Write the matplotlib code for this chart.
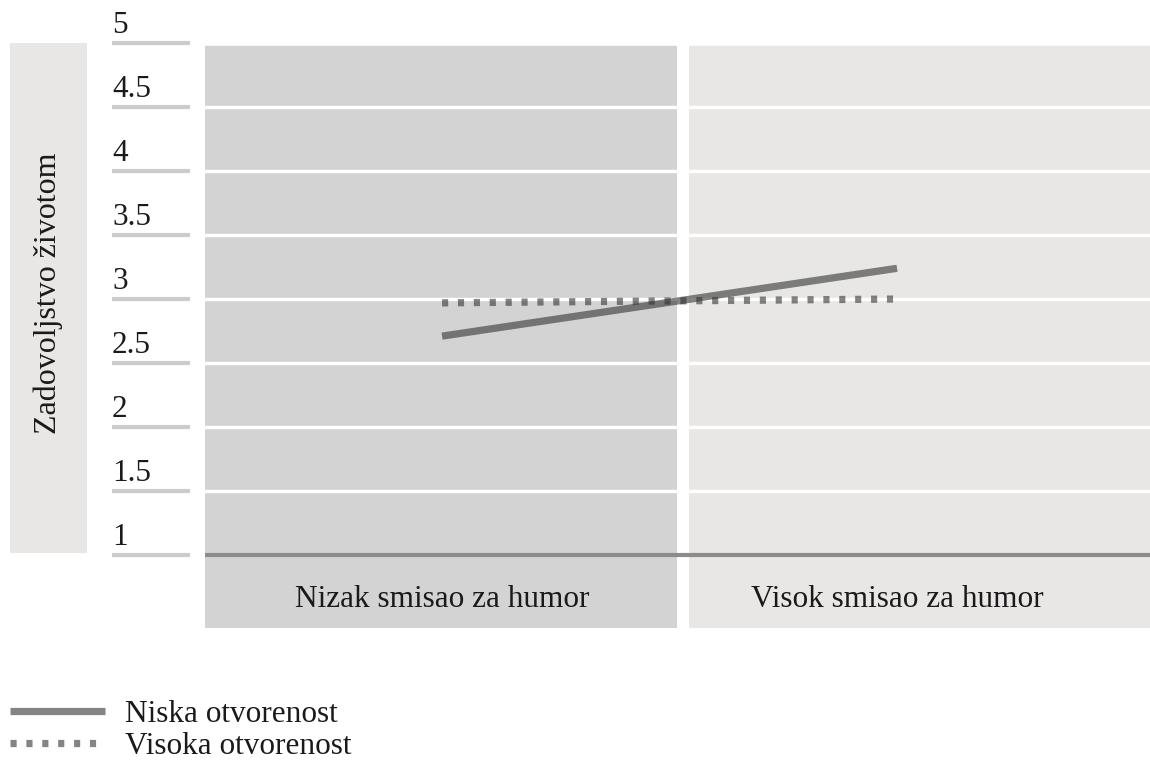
import matplotlib
matplotlib.use("Agg")
import matplotlib.pyplot as plt
import matplotlib.transforms as mtransforms
from matplotlib.patches import Rectangle

plt.rcParams['font.family'] = ['Liberation Serif', 'DejaVu Serif']

# data
categories = ['Nizak smisao za humor', 'Visok smisao za humor']
niska = [2.71, 3.24]
visoka = [2.97, 3.00]
series_labels = ['Niska otvorenost', 'Visoka otvorenost']
y_ticks = [1, 1.5, 2, 2.5, 3, 3.5, 4, 4.5, 5]
y_tick_labels = ['1', '1.5', '2', '2.5', '3', '3.5', '4', '4.5', '5']
y_title = 'Zadovoljstvo životom'

FS = 22.5
W, H = 1150, 771
fig = plt.figure(figsize=(W / 100, H / 100), dpi=100)

# main axes in pixel layout
x0, x1 = 205, 1150
ytop, ybot = 43, 628
ax = fig.add_axes([x0 / W, 1 - ybot / H, (x1 - x0) / W, (ybot - ytop) / H])
ax.set_xlim(-0.521, 1.556)
ax.set_ylim(0.43, 5)
ax.axis('off')

dark_bg = '#d4d3d4'
light_bg = '#e8e7e6'
split, gap = 0.53, 0.0135
ax.axvspan(-0.6, split - gap, color=dark_bg, lw=0, zorder=0)
ax.axvspan(split + gap, 1.7, color=light_bg, lw=0, zorder=0)

# white grid lines
for v in y_ticks[1:]:
    ax.axhline(v, color='white', lw=2.4, zorder=1)
ax.axhline(5, color='white', lw=4, zorder=1)
# baseline
ax.axhline(1, color='#8c8c8c', lw=3, zorder=2)

# category labels
for i, c in enumerate(categories):
    ax.text(i, (0.43 + 1) / 2 - 0.06, c, ha='center', va='center',
            fontsize=FS, color='#1a1a1a', zorder=3)

# series
xs = list(range(len(categories)))
l1, = ax.plot(xs, niska, color='#333333', alpha=0.6, lw=5.2,
              solid_capstyle='butt', zorder=4, label=series_labels[0])
l2, = ax.plot(xs, visoka, color='#333333', alpha=0.6, lw=5.2,
              dashes=(0.85, 1.35), dash_capstyle='butt', zorder=4,
              label=series_labels[1])

# tick labels with grey bars on the left
blend = mtransforms.blended_transform_factory(fig.transFigure, ax.transData)
for v, lab in zip(y_ticks, y_tick_labels):
    ax.plot([112 / W, 190 / W], [v, v], transform=blend, color='#cccccc',
            lw=3, solid_capstyle='butt', clip_on=False)
    ax.text(112 / W, v + 10 / 128, lab, transform=blend, ha='left',
            va='baseline', fontsize=FS, color='#1a1a1a')

# y title box
fig.patches.append(Rectangle((10 / W, 1 - 553 / H), 77 / W, 510 / H,
                             transform=fig.transFigure, color=light_bg, lw=0))
fig.text(48 / W, 1 - 293 / H, y_title, rotation=90, ha='center', va='center',
         fontsize=FS + 0.5, color='#1a1a1a')

# legend
leg = fig.legend(handles=[l1, l2], loc='lower left',
                 bbox_to_anchor=(-6 / W, -6 / H), frameon=False, fontsize=FS,
                 handlelength=3.05, handletextpad=0.65, borderpad=0,
                 labelspacing=0.1)
for t in leg.get_texts():
    t.set_color('#1a1a1a')

fig.savefig('out.png', dpi=100, facecolor='white')
